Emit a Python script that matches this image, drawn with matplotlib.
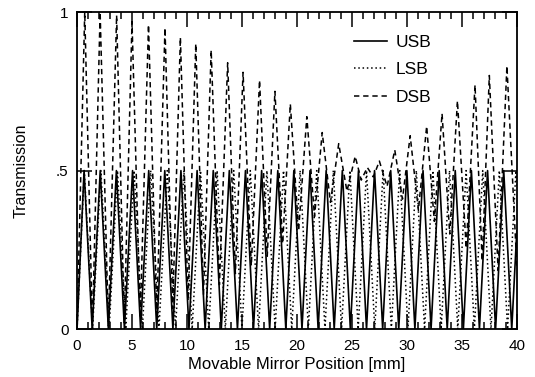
import matplotlib
matplotlib.use("Agg")
import matplotlib.pyplot as plt
from matplotlib.ticker import MultipleLocator, FixedLocator

# peak / trough positions [mm]
usb_peak_x = [0.64, 2.11, 3.58, 5.05, 6.52, 7.98, 9.45, 10.92, 12.39, 13.85, 15.32, 16.79, 18.26, 19.72,
              21.19, 22.66, 24.13, 25.6, 27.06, 28.53, 30.0, 31.47, 32.94, 34.4, 35.87, 37.34, 38.81]
usb_trough_x = [0.0, 1.38, 2.85, 4.31, 5.78, 7.25, 8.72, 10.18, 11.65, 13.12, 14.59, 16.05, 17.52, 18.99,
                20.46, 21.93, 23.39, 24.86, 26.33, 27.8, 29.26, 30.73, 32.2, 33.67, 35.14, 36.6, 38.07, 39.54]
usb_end = (40.0, 0.31)

lsb_peak_x = [0.66, 2.17, 3.68, 5.19, 6.7, 8.21, 9.72, 11.23, 12.74, 14.25, 15.76, 17.27, 18.78, 20.29,
              21.8, 23.31, 24.82, 26.33, 27.84, 29.35, 30.86, 32.37, 33.88, 35.39, 36.9, 38.41, 39.92]
lsb_trough_x = [0.0, 1.41, 2.92, 4.43, 5.94, 7.45, 8.96, 10.47, 11.98, 13.49, 15.0, 16.51, 18.02, 19.53,
                21.04, 22.55, 24.06, 25.57, 27.08, 28.59, 30.1, 31.61, 33.12, 34.63, 36.14, 37.65, 39.16]
lsb_end = (40.0, 0.45)

dsb_peak_x = [0.7, 2.1, 3.6, 5.0, 6.5, 8.0, 9.4, 10.8, 12.2, 13.7, 15.1, 16.6, 18.0, 19.4,
              20.9, 22.3, 23.8, 25.3, 26.4, 27.5, 28.9, 30.3, 31.8, 33.2, 34.6, 36.2, 37.5, 39.1]
dsb_peak_y = [1.0, 1.0, 0.99, 0.97, 0.96, 0.95, 0.92, 0.90, 0.88, 0.84, 0.81, 0.785, 0.75, 0.71,
              0.67, 0.62, 0.585, 0.545, 0.51, 0.53, 0.565, 0.61, 0.64, 0.68, 0.72, 0.77, 0.80, 0.83]
dsb_trough_x = [0.0, 1.4, 2.85, 4.3, 5.75, 7.25, 8.7, 10.1, 11.5, 12.95, 14.4, 15.85, 17.3, 18.7,
                20.15, 21.6, 23.05, 24.55, 25.85, 26.95, 28.2, 29.6, 31.05, 32.5, 33.9, 35.4, 36.85, 38.3]
dsb_trough_y = [0.0, 0.0, 0.01, 0.02, 0.035, 0.045, 0.065, 0.09, 0.11, 0.14, 0.175, 0.2, 0.23, 0.27,
                0.31, 0.355, 0.4, 0.435, 0.47, 0.48, 0.45, 0.41, 0.375, 0.34, 0.3, 0.255, 0.215, 0.185]
dsb_end = (40.0, 0.2)

x_ticks = [0, 5, 10, 15, 20, 25, 30, 35, 40]
y_ticks = [0, 0.5, 1]
y_tick_labels = ["0", ".5", "1"]


def zigzag(trough_x, trough_y, peak_x, peak_y, end):
    xs, ys = [], []
    for i in range(len(trough_x)):
        xs.append(trough_x[i])
        ys.append(trough_y[i])
        if i < len(peak_x):
            xs.append(peak_x[i])
            ys.append(peak_y[i])
    xs.append(end[0])
    ys.append(end[1])
    return xs, ys


def main():
    plt.rcParams["font.family"] = ["Liberation Sans", "DejaVu Sans"]
    fig = plt.figure(figsize=(5.35, 3.77), dpi=100)
    ax = fig.add_axes([0.144, 0.127, 0.822, 0.841])

    usb = zigzag(usb_trough_x, [0.0] * len(usb_trough_x), usb_peak_x, [0.5] * len(usb_peak_x), usb_end)
    lsb = zigzag(lsb_trough_x, [0.0] * len(lsb_trough_x), lsb_peak_x, [0.5] * len(lsb_peak_x), lsb_end)
    dsb = zigzag(dsb_trough_x, dsb_trough_y, dsb_peak_x, dsb_peak_y, dsb_end)

    ax.plot(usb[0], usb[1], color="black", lw=1.2, label="USB")
    ax.plot(lsb[0], lsb[1], color="black", lw=1.1, ls=(0, (1, 1.8)), label="LSB")
    ax.plot(dsb[0], dsb[1], color="black", lw=1.1, ls=(0, (3.5, 2.5)), label="DSB")

    ax.set_xlim(0, 40)
    ax.set_ylim(0, 1)
    ax.xaxis.set_major_locator(FixedLocator(x_ticks))
    ax.xaxis.set_minor_locator(MultipleLocator(1))
    ax.set_yticks(y_ticks)
    ax.set_yticklabels(y_tick_labels)
    ax.tick_params(which="both", direction="in", top=True, right=True, labelsize=11, width=1.1)
    ax.tick_params(which="major", length=11)
    ax.tick_params(which="minor", length=5)
    ax.tick_params(axis="x", pad=7)
    ax.tick_params(axis="y", pad=6)
    for s in ax.spines.values():
        s.set_linewidth(1.3)

    ax.set_xlabel("Movable Mirror Position [mm]", fontsize=12, labelpad=3)
    ax.set_ylabel("Transmission", fontsize=11.5, labelpad=20)

    ax.legend(loc="upper left", bbox_to_anchor=(0.615, 0.95), frameon=False, fontsize=12.5,
              handlelength=1.9, handletextpad=0.5, labelspacing=0.7, borderaxespad=0)

    plt.savefig("out.png", dpi=100)
    plt.close()


if __name__ == "__main__":
    main()
